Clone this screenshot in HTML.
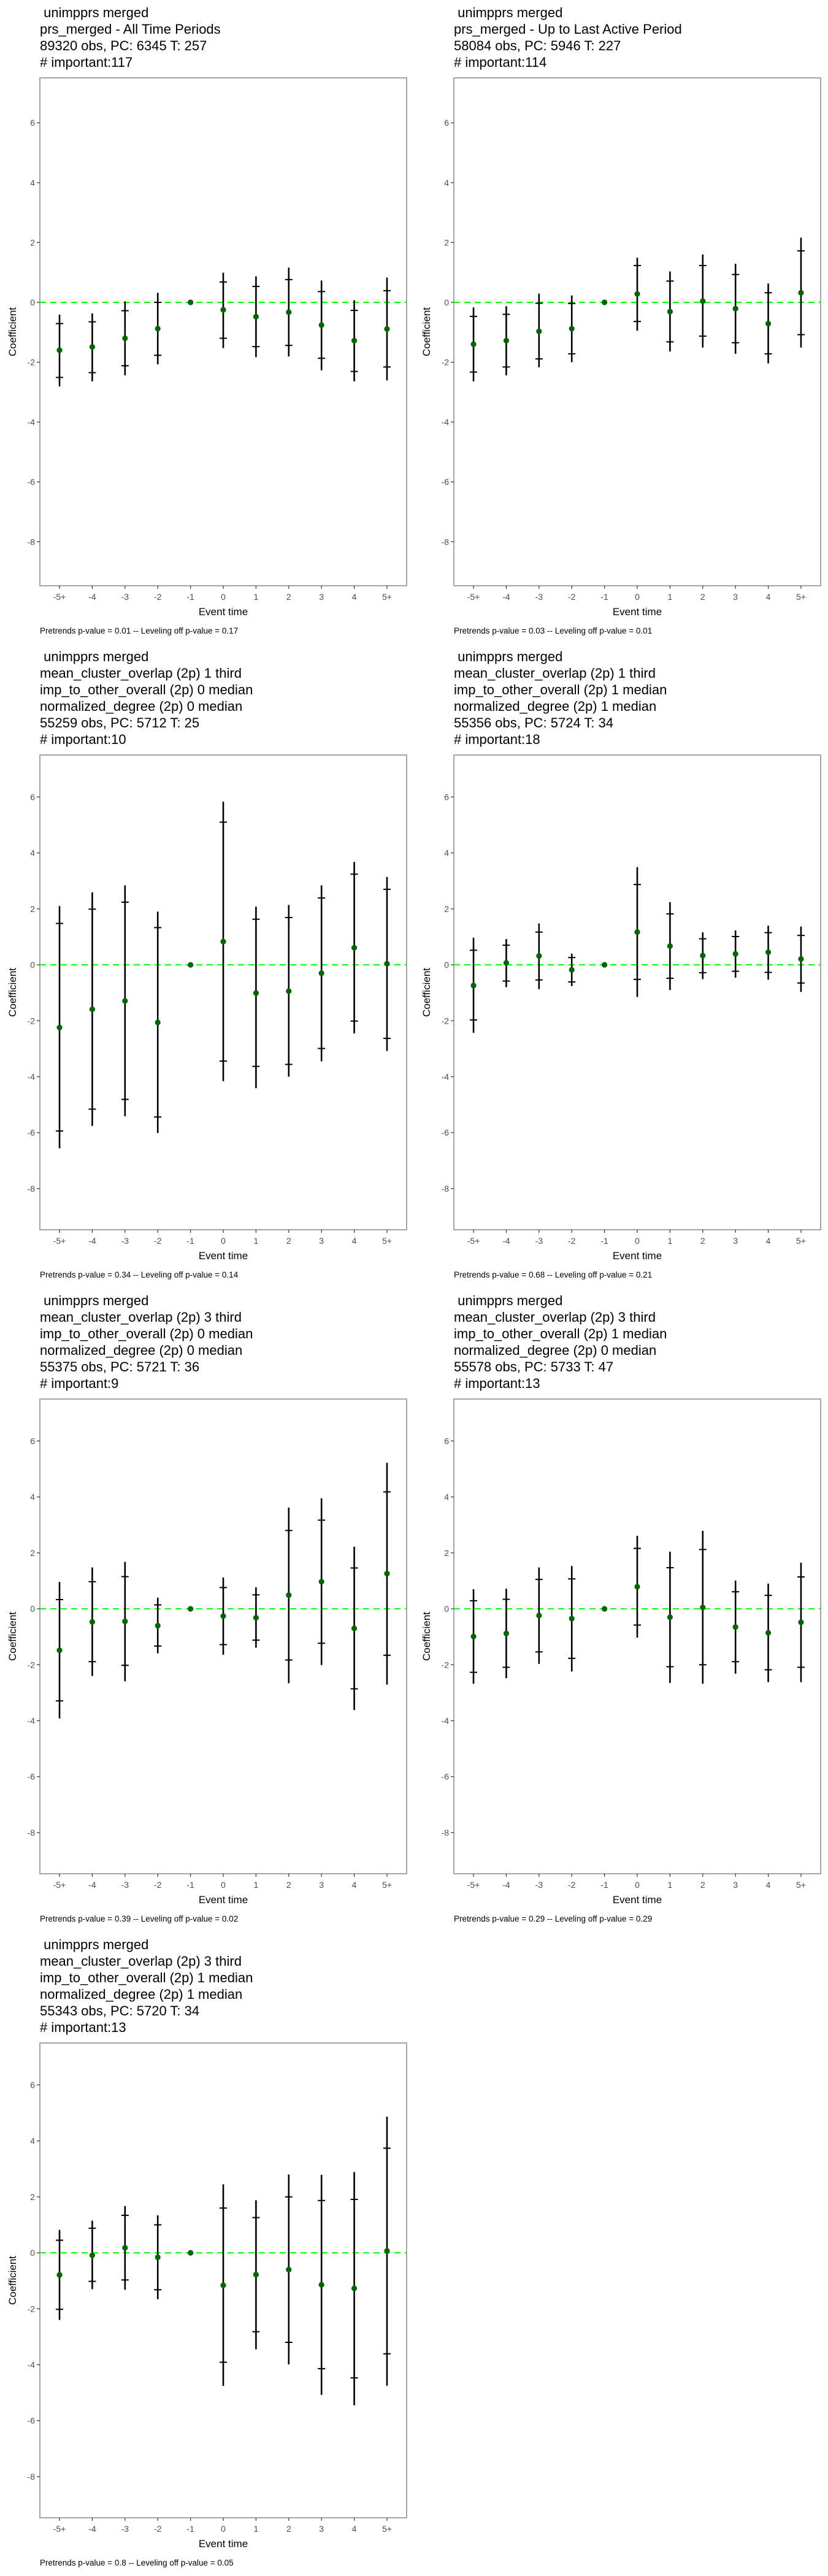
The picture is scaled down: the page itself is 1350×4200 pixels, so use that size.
<!DOCTYPE html>
<html><head><meta charset="utf-8">
<style>
html,body{margin:0;padding:0;background:#fff;}
svg{display:block;font-family:"Liberation Sans",Arial,sans-serif;}
</style></head>
<body>
<svg id="chart" width="1350" height="4200" viewBox="0 0 1350 4200" xmlns="http://www.w3.org/2000/svg"></svg>
<script>
// Shared axis data
const categories = ["-5+","-4","-3","-2","-1","0","1","2","3","4","5+"];
const yTicks = [6,4,2,0,-2,-4,-6,-8];
const yDomain = [-9.47, 7.5];

// Panel titles and footnotes
const titles = [
 [" unimpprs merged","prs_merged - All Time Periods","89320 obs, PC: 6345 T: 257","# important:117"],
 [" unimpprs merged","prs_merged - Up to Last Active Period","58084 obs, PC: 5946 T: 227","# important:114"],
 [" unimpprs merged","mean_cluster_overlap (2p) 1 third","imp_to_other_overall (2p) 0 median","normalized_degree (2p) 0 median","55259 obs, PC: 5712 T: 25","# important:10"],
 [" unimpprs merged","mean_cluster_overlap (2p) 1 third","imp_to_other_overall (2p) 1 median","normalized_degree (2p) 1 median","55356 obs, PC: 5724 T: 34","# important:18"],
 [" unimpprs merged","mean_cluster_overlap (2p) 3 third","imp_to_other_overall (2p) 0 median","normalized_degree (2p) 0 median","55375 obs, PC: 5721 T: 36","# important:9"],
 [" unimpprs merged","mean_cluster_overlap (2p) 3 third","imp_to_other_overall (2p) 1 median","normalized_degree (2p) 0 median","55578 obs, PC: 5733 T: 47","# important:13"],
 [" unimpprs merged","mean_cluster_overlap (2p) 3 third","imp_to_other_overall (2p) 1 median","normalized_degree (2p) 1 median","55343 obs, PC: 5720 T: 34","# important:13"]
];
const pretrendP = ["0.01","0.03","0.34","0.68","0.39","0.29","0.8"];
const levelingP = ["0.17","0.01","0.14","0.21","0.02","0.29","0.05"];

// Series values per panel: estimate, inner CI (caps), outer CI (line)
const est1 = [-1.6,-1.49,-1.2,-0.88,0,-0.25,-0.48,-0.33,-0.76,-1.28,-0.89];
const hiIn1 = [-0.71,-0.65,-0.28,0,null,0.68,0.53,0.76,0.36,-0.27,0.39];
const loIn1 = [-2.51,-2.35,-2.12,-1.77,null,-1.2,-1.48,-1.44,-1.87,-2.31,-2.16];
const hiOut1 = [-0.41,-0.37,0.03,0.32,null,0.99,0.87,1.16,0.73,0.07,0.83];
const loOut1 = [-2.81,-2.64,-2.44,-2.07,null,-1.53,-1.83,-1.81,-2.27,-2.64,-2.61];

const est2 = [-1.4,-1.28,-0.97,-0.88,0,0.28,-0.31,0.04,-0.21,-0.71,0.32];
const hiIn2 = [-0.47,-0.4,-0.03,-0.04,null,1.23,0.71,1.23,0.93,0.32,1.72];
const loIn2 = [-2.33,-2.16,-1.89,-1.72,null,-0.64,-1.32,-1.13,-1.35,-1.72,-1.08];
const hiOut2 = [-0.17,-0.13,0.29,0.23,null,1.49,1.03,1.6,1.29,0.63,2.16];
const loOut2 = [-2.64,-2.44,-2.17,-2.0,null,-0.95,-1.64,-1.51,-1.72,-2.04,-1.51];

const est3 = [-2.24,-1.59,-1.29,-2.06,0,0.83,-1.01,-0.94,-0.3,0.61,0.04];
const hiIn3 = [1.48,1.99,2.24,1.33,null,5.1,1.63,1.69,2.39,3.24,2.7];
const loIn3 = [-5.94,-5.16,-4.81,-5.44,null,-3.44,-3.63,-3.56,-2.99,-2.01,-2.63];
const hiOut3 = [2.1,2.59,2.84,1.9,null,5.83,2.08,2.14,2.84,3.68,3.14];
const loOut3 = [-6.56,-5.76,-5.41,-6.01,null,-4.16,-4.41,-4.0,-3.45,-2.45,-3.08];

const est4 = [-0.74,0.07,0.32,-0.18,0,1.17,0.67,0.33,0.39,0.45,0.21];
const hiIn4 = [0.52,0.7,1.17,0.26,null,2.87,1.82,0.93,1.01,1.15,1.05];
const loIn4 = [-1.97,-0.58,-0.54,-0.61,null,-0.52,-0.48,-0.28,-0.23,-0.27,-0.65];
const hiOut4 = [0.97,0.92,1.48,0.4,null,3.49,2.24,1.16,1.23,1.4,1.37];
const loOut4 = [-2.43,-0.8,-0.87,-0.76,null,-1.15,-0.9,-0.51,-0.46,-0.53,-0.97];

const est5 = [-1.48,-0.47,-0.45,-0.6,0,-0.26,-0.32,0.49,0.97,-0.7,1.26];
const hiIn5 = [0.33,0.97,1.15,0.14,null,0.76,0.5,2.8,3.17,1.46,4.18];
const loIn5 = [-3.29,-1.89,-2.02,-1.33,null,-1.28,-1.12,-1.83,-1.23,-2.86,-1.66];
const hiOut5 = [0.96,1.48,1.68,0.4,null,1.12,0.77,3.62,3.95,2.22,5.22];
const loOut5 = [-3.92,-2.4,-2.59,-1.59,null,-1.64,-1.39,-2.66,-2.01,-3.62,-2.71];

const est6 = [-0.99,-0.88,-0.24,-0.35,0,0.79,-0.3,0.05,-0.65,-0.86,-0.48];
const hiIn6 = [0.29,0.34,1.05,1.07,null,2.16,1.47,2.12,0.61,0.48,1.14];
const loIn6 = [-2.27,-2.09,-1.54,-1.77,null,-0.58,-2.07,-2.0,-1.89,-2.18,-2.09];
const hiOut6 = [0.7,0.72,1.48,1.53,null,2.61,2.04,2.79,1.01,0.9,1.65];
const loOut6 = [-2.68,-2.48,-1.97,-2.24,null,-1.03,-2.65,-2.68,-2.32,-2.62,-2.62];

const est7 = [-0.79,-0.09,0.18,-0.16,0,-1.16,-0.78,-0.6,-1.14,-1.27,0.07];
const hiIn7 = [0.45,0.88,1.34,1.0,null,1.6,1.26,2.0,1.87,1.91,3.74];
const loIn7 = [-2.02,-1.02,-0.97,-1.32,null,-3.91,-2.82,-3.2,-4.14,-4.47,-3.61];
const hiOut7 = [0.82,1.15,1.67,1.34,null,2.45,1.88,2.8,2.79,2.89,4.87];
const loOut7 = [-2.4,-1.3,-1.32,-1.66,null,-4.76,-3.45,-3.99,-5.08,-5.45,-4.75];

const panels = [
 {est:est1,hiIn:hiIn1,loIn:loIn1,hiOut:hiOut1,loOut:loOut1},
 {est:est2,hiIn:hiIn2,loIn:loIn2,hiOut:hiOut2,loOut:loOut2},
 {est:est3,hiIn:hiIn3,loIn:loIn3,hiOut:hiOut3,loOut:loOut3},
 {est:est4,hiIn:hiIn4,loIn:loIn4,hiOut:hiOut4,loOut:loOut4},
 {est:est5,hiIn:hiIn5,loIn:loIn5,hiOut:hiOut5,loOut:loOut5},
 {est:est6,hiIn:hiIn6,loIn:loIn6,hiOut:hiOut6,loOut:loOut6},
 {est:est7,hiIn:hiIn7,loIn:loIn7,hiOut:hiOut7,loOut:loOut7}
];

const NS = "http://www.w3.org/2000/svg";
const svg = document.getElementById("chart");
function mk(tag, attrs, parent, text){
  const e = document.createElementNS(NS, tag);
  for (const k in attrs) e.setAttribute(k, attrs[k]);
  if (text !== undefined) e.textContent = text;
  (parent||svg).appendChild(e);
  return e;
}

panels.forEach((p, idx) => {
  const row = Math.floor(idx/2), col = idx % 2;
  const X0 = col*675, Y0 = row*1050;
  const lines = titles[idx];
  const g = mk("g", {});
  
  

  // title
  const t = mk("text", {x: X0+65, "font-size": 22, fill: "#000", "xml:space":"preserve"}, g);
  
  
  lines.forEach((ln, i) => {
    mk("tspan", {x: X0+65, y: Y0+28+27*i, "xml:space":"preserve"}, t, ln.replace(/^ /, "\u00a0"));
  });

  const left = X0+65, right = X0+663;
  const top = Y0+127+27*(lines.length-4), bottom = Y0+955;
  const yScale = v => bottom - (v - yDomain[0])/(yDomain[1]-yDomain[0])*(bottom-top);
  const step = (right-left)/(categories.length-1+1.2);
  const xScale = i => left + step*(0.6+i);

  // axis box
  const box = mk("rect", {x:left, y:top, width:right-left, height:bottom-top, fill:"none", stroke:"#7f7f7f", "stroke-width":1.4}, g);
  
  

  // y ticks
  yTicks.forEach(v => {
    const y = yScale(v);
    mk("line", {x1:left-5, x2:left, y1:y, y2:y, stroke:"#333", "stroke-width":1.2}, g);
    const lb = mk("text", {x:left-8, y:y+5, "text-anchor":"end", "font-size":14, fill:"#4d4d4d"}, g, String(v));
    
    
  });
  // x ticks
  categories.forEach((c, i) => {
    const x = xScale(i);
    mk("line", {x1:x, x2:x, y1:bottom, y2:bottom+5, stroke:"#333", "stroke-width":1.2}, g);
    const lb = mk("text", {x:x, y:bottom+23, "text-anchor":"middle", "font-size":14, fill:"#4d4d4d"}, g, c);
    
    
  });

  // axis titles
  const xt = mk("text", {x:(left+right)/2, y:bottom+48, "text-anchor":"middle", "font-size":17, fill:"#000"}, g, "Event time");
  
  
  const cy = (top+bottom)/2;
  const yt = mk("text", {x:X0+26, y:cy, "text-anchor":"middle", "font-size":17, fill:"#000", transform:`rotate(-90 ${X0+26} ${cy})`}, g, "Coefficient");
  
  

  // zero line
  const zl = mk("line", {x1:left, x2:right, y1:yScale(0), y2:yScale(0), stroke:"#00ff00", "stroke-width":2, "stroke-dasharray":"10,7"}, g);
  
  

  // error bars and points
  categories.forEach((c, i) => {
    const x = xScale(i);
    if (p.hiOut[i] !== null) {
      const ln = mk("line", {x1:x, x2:x, y1:yScale(p.hiOut[i]), y2:yScale(p.loOut[i]), stroke:"#000", "stroke-width":2.6}, g);
      
      
      [p.hiIn[i], p.loIn[i]].forEach(v => {
        const cp = mk("line", {x1:x-6, x2:x+6, y1:yScale(v), y2:yScale(v), stroke:"#000", "stroke-width":2}, g);
        
        
      });
    }
    const pt = mk("circle", {cx:x, cy:yScale(p.est[i]), r:4.6, fill:"#006400"}, g);
    
    
  });

  // footnote
  const fn = mk("text", {x:left, y:Y0+1033, "font-size":13.5, fill:"#000"}, g,
    "Pretrends p-value = " + pretrendP[idx] + " -- Leveling off p-value = " + levelingP[idx]);
  
  
});
</script>
</body></html>
